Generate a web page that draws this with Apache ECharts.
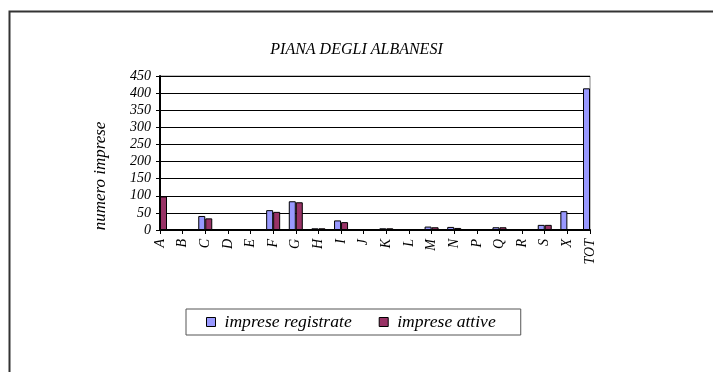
<!DOCTYPE html>
<html>
<head>
<meta charset="utf-8">
<script src="https://cdn.jsdelivr.net/npm/echarts@6/dist/echarts.min.js"></script>
<style>
  html, body { margin: 0; padding: 0; background: #fff; }
  #chart { width: 713px; height: 372px; }
</style>
</head>
<body>
<div id="chart"></div>
<script>
// Sezioni di attività economica
const categories = ['A','B','C','D','E','F','G','H','I','J','K','L','M','N','P','Q','R','S','X','TOT'];
// Numero di imprese per sezione (null = barra non visibile ai bordi dell'asse)
const impreseRegistrate = [null, 0, 41, 1, 1, 58, 84, 5, 28, 1, 5, 2, 10, 9, 0, 8, 2, 15, 55, 414];
const impreseAttive     = [98, 0, 34, 1, 1, 53, 81, 5, 23, 1, 5, 2, 8, 6, 0, 8, 2, 15, 1, null];
const yTicks = { min: 0, max: 450, step: 50 };

const serif = '"Liberation Serif", "Times New Roman", serif';
const chart = echarts.init(document.getElementById('chart'), null, { renderer: 'canvas' });

chart.setOption({
  animation: false,
  backgroundColor: '#fff',
  title: {
    text: 'PIANA DEGLI ALBANESI',
    left: 'center',
    top: 37,
    textStyle: { fontFamily: serif, fontStyle: 'italic', fontWeight: 'normal', fontSize: 16, color: '#000' }
  },
  grid: {
    left: 160, right: 123, top: 76, bottom: 142,
    show: true, borderColor: '#808080', borderWidth: 1
  },
  legend: {
    left: 186, top: 309,
    padding: [4, 25, 4, 20],
    itemGap: 27,
    itemWidth: 9, itemHeight: 9,
    borderColor: '#555', borderWidth: 1,
    icon: 'rect',
    textStyle: { fontFamily: serif, fontStyle: 'italic', fontSize: 17.6, color: '#000', padding: [0, 0, 0, 4] },
    data: [
      { name: 'imprese registrate', itemStyle: { borderColor: '#000', borderWidth: 1 } },
      { name: 'imprese attive', itemStyle: { borderColor: '#000', borderWidth: 1 } }
    ]
  },
  xAxis: {
    type: 'category',
    data: categories,
    boundaryGap: false,
    axisLine: { lineStyle: { color: '#000', width: 2 } },
    axisTick: { show: true, length: 4, lineStyle: { color: '#000' } },
    axisLabel: {
      rotate: 90, margin: 9, interval: 0,
      fontFamily: serif, fontStyle: 'italic', fontSize: 14, color: '#000'
    },
    splitLine: { show: false }
  },
  yAxis: {
    type: 'value',
    min: yTicks.min, max: yTicks.max, interval: yTicks.step,
    axisLine: { show: true, lineStyle: { color: '#000', width: 2 } },
    axisTick: { show: true, length: 4, lineStyle: { color: '#000' } },
    axisLabel: { margin: 9, fontFamily: serif, fontStyle: 'italic', fontSize: 14, color: '#000' },
    splitLine: { lineStyle: { color: '#000', width: 1 } }
  },
  graphic: [
    {
      type: 'rect', left: 7, top: 9, silent: true,
      shape: { width: 800, height: 400 },
      style: { fill: 'none', stroke: '#333', lineWidth: 2 }
    },
    {
      type: 'text', x: 101, y: 176, rotation: Math.PI / 2, silent: true,
      style: {
        text: 'numero imprese', align: 'center', verticalAlign: 'middle',
        font: 'italic 17px ' + serif, fill: '#000'
      }
    }
  ],
  series: [
    {
      name: 'imprese registrate', type: 'bar', data: impreseRegistrate,
      barWidth: 7, barGap: '0%',
      itemStyle: { color: '#9999FF', borderColor: '#000', borderWidth: 1 }
    },
    {
      name: 'imprese attive', type: 'bar', data: impreseAttive,
      barWidth: 7, barGap: '0%',
      itemStyle: { color: '#993366', borderColor: '#000', borderWidth: 1 }
    }
  ]
});
</script>
</body>
</html>
